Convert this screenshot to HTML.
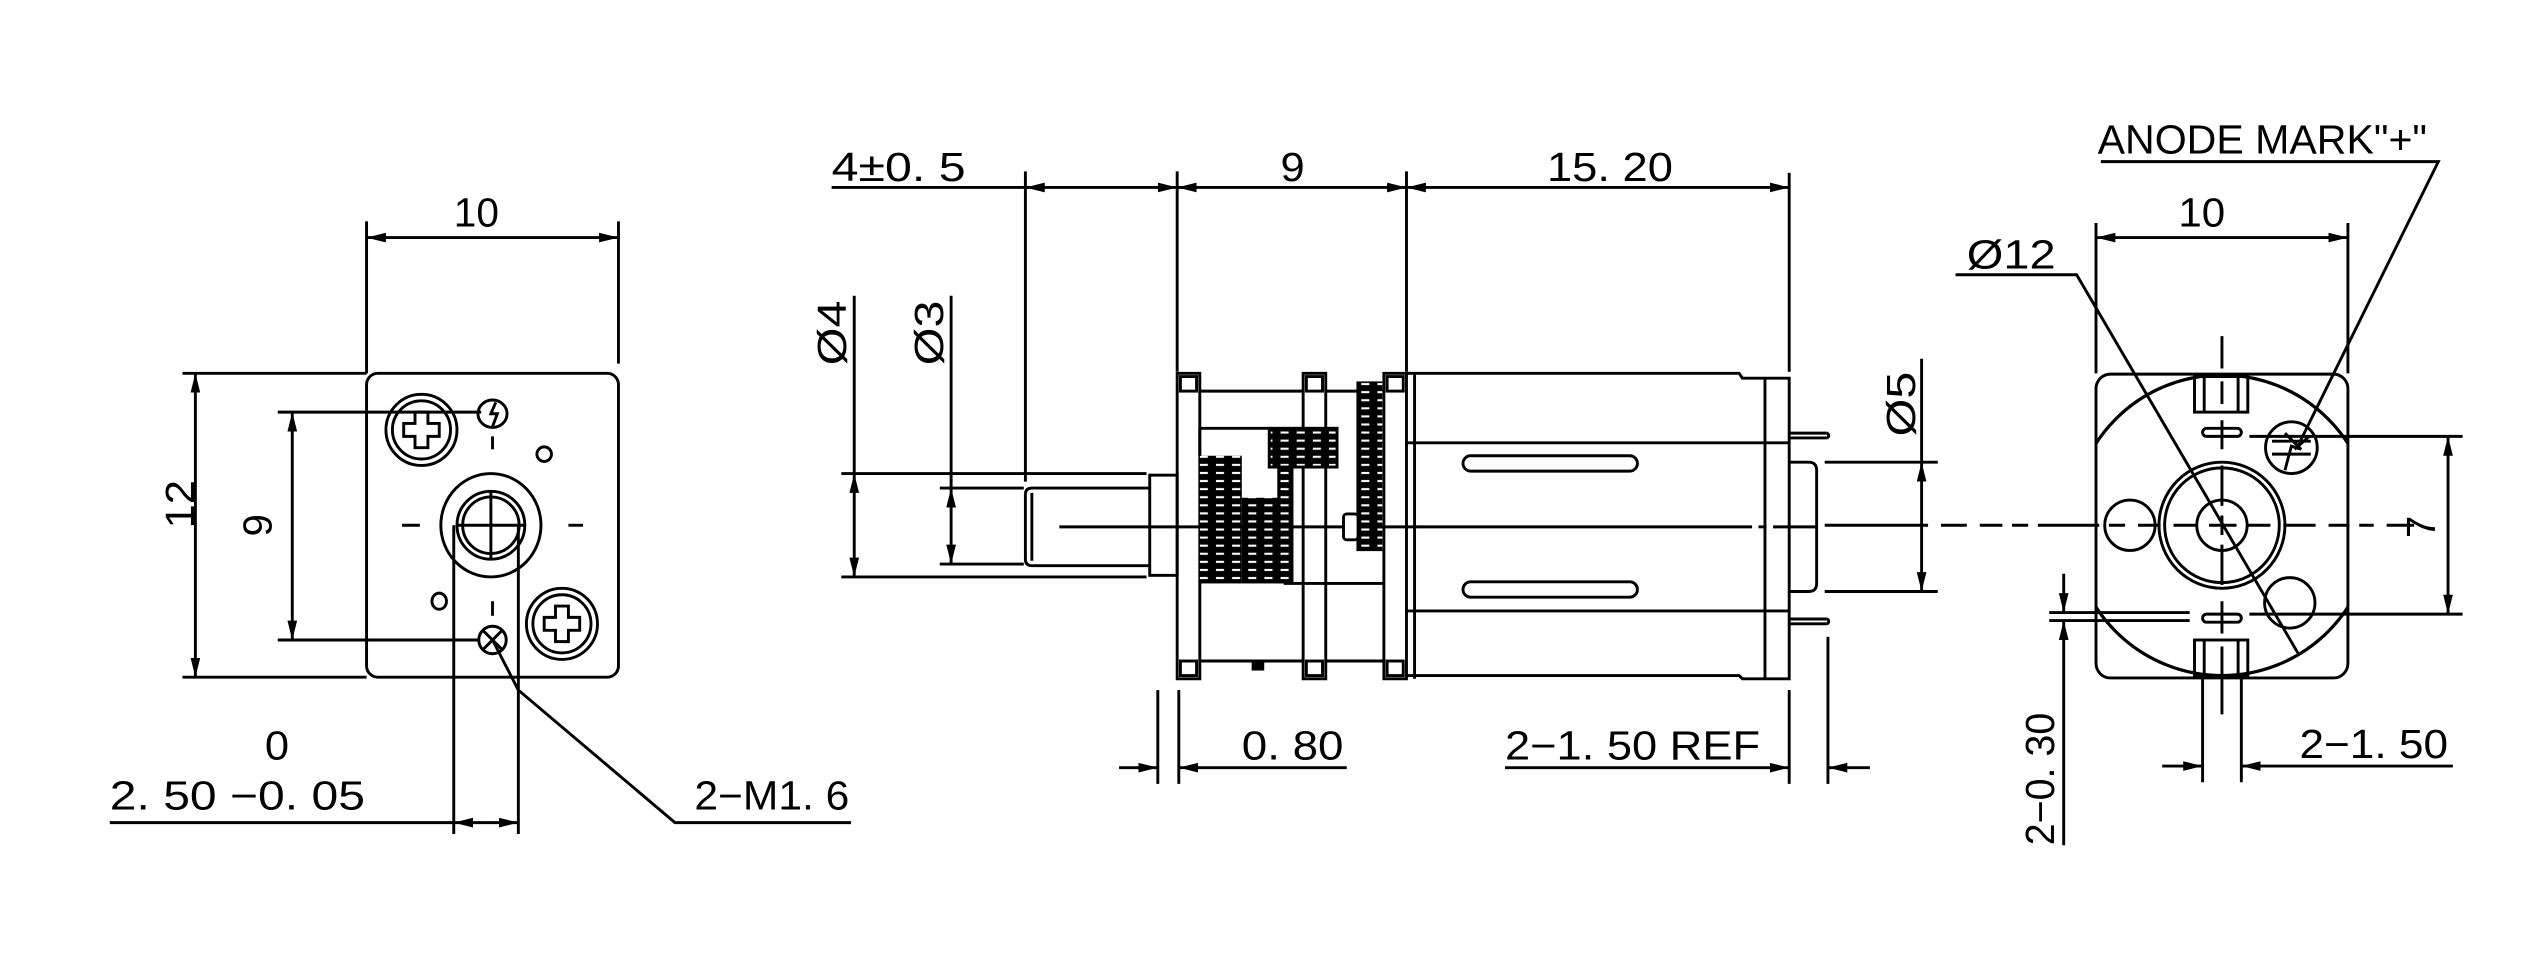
<!DOCTYPE html>
<html><head><meta charset="utf-8"><style>
html,body{margin:0;padding:0;background:#fff;}
svg{display:block;}
text{font-family:"Liberation Sans",sans-serif;fill:#000;}
</style></head><body>
<svg width="2532" height="960" viewBox="0 0 1568 594" preserveAspectRatio="none" xmlns="http://www.w3.org/2000/svg">
<defs>
<marker id="a" markerUnits="userSpaceOnUse" markerWidth="13" markerHeight="7" refX="12" refY="3" orient="auto-start-reverse"><path d="M0,0 L12,3 L0,6 z" fill="#000"/></marker>
<clipPath id="rb"><rect x="1298" y="231.5" width="156" height="188" rx="9"/></clipPath>
<pattern id="g" width="10" height="5" patternUnits="userSpaceOnUse"><rect width="10" height="5" fill="#000"/><rect x="3" y="2" width="5" height="1.3" fill="#fff"/></pattern>
</defs>
<g fill="none" stroke="#000" stroke-width="1.8">
<!-- ===== LEFT VIEW ===== -->
<rect x="227" y="231" width="156" height="188" rx="7"/>
<line x1="227" y1="137" x2="227" y2="231"/><line x1="383" y1="137" x2="383" y2="225"/>
<line x1="227" y1="147" x2="383" y2="147" marker-start="url(#a)" marker-end="url(#a)"/>
<line x1="113" y1="231" x2="227" y2="231"/><line x1="113" y1="419" x2="227" y2="419"/>
<line x1="121" y1="231" x2="121" y2="419" marker-start="url(#a)" marker-end="url(#a)"/>
<line x1="172" y1="255" x2="298" y2="255"/><line x1="172" y1="396" x2="297" y2="396"/>
<line x1="181" y1="255" x2="181" y2="396" marker-start="url(#a)" marker-end="url(#a)"/>
<circle cx="261" cy="266" r="22"/><circle cx="261" cy="266" r="18"/>
<path d="M257,255 h8 v7 h7 v8 h-7 v7 h-8 v-7 h-7 v-8 h7 z"/>
<circle cx="348" cy="386" r="22"/><circle cx="348" cy="386" r="18"/>
<path d="M344,375 h8 v7 h7 v8 h-7 v7 h-8 v-7 h-7 v-8 h7 z"/>
<ellipse cx="305" cy="256" rx="9" ry="8.5"/><path d="M307,249 l-3,7 l4,0 l-3,8"/>
<ellipse cx="337" cy="281" rx="4.5" ry="4.5"/><ellipse cx="272" cy="372" rx="4.5" ry="5"/>
<ellipse cx="304" cy="325" rx="31" ry="32"/><circle cx="304" cy="325" r="21"/><circle cx="304" cy="325" r="17.5"/>
<line x1="283" y1="325" x2="325" y2="325"/><line x1="304" y1="304" x2="304" y2="346"/>
<line x1="249" y1="325" x2="260" y2="325"/><line x1="352" y1="325" x2="361" y2="325"/>
<line x1="305" y1="270" x2="305" y2="278"/><line x1="305" y1="372" x2="305" y2="381"/>
<circle cx="305" cy="396" r="8.5"/><path d="M299,390 l12,12 M311,390 l-12,12"/>
<line x1="281" y1="325" x2="281" y2="516"/><line x1="321" y1="325" x2="321" y2="516"/>
<line x1="68" y1="509" x2="281" y2="509"/>
<line x1="301" y1="509" x2="281" y2="509" marker-end="url(#a)"/>
<line x1="301" y1="509" x2="321" y2="509" marker-end="url(#a)"/>
<path d="M305,396 L321,427 L418,509 L527,509"/>
<!-- ===== MIDDLE VIEW ===== -->
<line x1="515" y1="116" x2="635" y2="116"/>
<line x1="635" y1="116" x2="729" y2="116" marker-start="url(#a)" marker-end="url(#a)"/>
<line x1="729" y1="116" x2="871" y2="116" marker-start="url(#a)" marker-end="url(#a)"/>
<line x1="871" y1="116" x2="1108" y2="116" marker-start="url(#a)" marker-end="url(#a)"/>
<line x1="635" y1="106" x2="635" y2="298"/><line x1="729" y1="106" x2="729" y2="230"/>
<line x1="871" y1="106" x2="871" y2="230"/><line x1="1108" y1="107" x2="1108" y2="230"/>
<rect x="729" y="231" width="14" height="189"/><rect x="731" y="233" width="10" height="9"/><rect x="731" y="409" width="10" height="9"/>
<rect x="807" y="231" width="14" height="189"/><rect x="809" y="233" width="10" height="9"/><rect x="809" y="409" width="10" height="9"/>
<rect x="857" y="231" width="14" height="189"/><rect x="859" y="233" width="10" height="9"/><rect x="859" y="409" width="10" height="9"/>
<line x1="743" y1="242" x2="807" y2="242"/><line x1="821" y1="242" x2="857" y2="242"/>
<line x1="743" y1="409" x2="807" y2="409"/><line x1="821" y1="409" x2="857" y2="409"/>
<line x1="743" y1="265" x2="786" y2="265"/><line x1="743" y1="265" x2="743" y2="282"/>
<line x1="795" y1="361" x2="857" y2="361"/>
<rect x="776" y="409" width="6" height="5" fill="#000"/>
<path d="M871,231 H1077 L1079,234 H1108 V420 H1079 L1077,418 H871"/>
<line x1="876" y1="231" x2="876" y2="420"/>
<line x1="1093" y1="234" x2="1093" y2="420"/>
<line x1="871" y1="274" x2="1108" y2="274"/><line x1="871" y1="378" x2="1108" y2="378"/>
<rect x="906" y="282" width="108" height="9.5" rx="4.7"/><rect x="906" y="360" width="108" height="9.5" rx="4.7"/>
<line x1="1108" y1="268" x2="1131" y2="268"/><line x1="1108" y1="271" x2="1131" y2="271"/><path d="M1131,268 a1.5,1.5 0 0 1 0,3"/>
<line x1="1108" y1="383" x2="1131" y2="383"/><line x1="1108" y1="386" x2="1131" y2="386"/><path d="M1131,383 a1.5,1.5 0 0 1 0,3"/>
<path d="M1108,286 H1120 Q1125,286 1125,291 V361 Q1125,366 1120,366 H1108"/>
<path d="M712,302 H639 Q635,302 635,306 V346 Q635,350 639,350 H712"/>
<line x1="639" y1="305" x2="639" y2="347"/>
<rect x="712" y="294" width="17" height="62"/>
<line x1="656" y1="326" x2="1085" y2="326"/><line x1="1089" y1="326" x2="1094" y2="326"/><line x1="1098" y1="326" x2="1125" y2="326"/>
<line x1="529" y1="183" x2="529" y2="293"/>
<line x1="529" y1="293" x2="529" y2="357" marker-start="url(#a)" marker-end="url(#a)"/>
<line x1="521" y1="293" x2="710" y2="293"/><line x1="521" y1="357" x2="710" y2="357"/>
<line x1="589" y1="183" x2="589" y2="302"/>
<line x1="589" y1="302" x2="589" y2="349" marker-start="url(#a)" marker-end="url(#a)"/>
<line x1="582" y1="302" x2="634" y2="302"/><line x1="582" y1="349" x2="634" y2="349"/>
<line x1="1130" y1="286" x2="1200" y2="286"/><line x1="1130" y1="366" x2="1200" y2="366"/>
<line x1="1190" y1="286" x2="1190" y2="366" marker-start="url(#a)" marker-end="url(#a)"/>
<line x1="1190" y1="222" x2="1190" y2="286"/>
<line x1="717" y1="427" x2="717" y2="485"/><line x1="730" y1="427" x2="730" y2="485"/>
<line x1="693" y1="475" x2="717" y2="475" marker-end="url(#a)"/>
<line x1="834" y1="475" x2="730" y2="475" marker-end="url(#a)"/>
<line x1="1108" y1="427" x2="1108" y2="485"/><line x1="1132" y1="394" x2="1132" y2="485"/>
<line x1="932" y1="475" x2="1108" y2="475" marker-end="url(#a)"/>
<line x1="1158" y1="475" x2="1132" y2="475" marker-end="url(#a)"/>
<!-- ===== RIGHT VIEW ===== -->
<rect x="1298" y="231.5" width="156" height="188" rx="9"/>
<circle cx="1376" cy="325" r="93" clip-path="url(#rb)" stroke-width="2"/>
<line x1="1298" y1="138" x2="1298" y2="231"/><line x1="1454" y1="138" x2="1454" y2="231"/>
<line x1="1298" y1="147" x2="1454" y2="147" marker-start="url(#a)" marker-end="url(#a)"/>
<circle cx="1376" cy="325" r="39"/><circle cx="1376" cy="325" r="35.5"/><circle cx="1376" cy="325" r="15.6"/>
<circle cx="1319" cy="325" r="15.6"/><circle cx="1418" cy="373" r="15.6"/>
<circle cx="1419" cy="277" r="16"/>
<path d="M1407,273 h24 M1407,281 h24 M1415,268 l10,10 l-6,-2 l-4,15 M1430,270 l-9,8"/>
<rect x="1359" y="233" width="33" height="22"/><line x1="1365" y1="233" x2="1365" y2="255"/><line x1="1386" y1="233" x2="1386" y2="255"/>
<rect x="1359" y="396" width="33" height="22"/><line x1="1365" y1="396" x2="1365" y2="418"/><line x1="1386" y1="396" x2="1386" y2="418"/>
<rect x="1364" y="265" width="24" height="5" rx="2.5"/><rect x="1364" y="380" width="24" height="5" rx="2.5"/>
<path d="M1376,208 V228 M1376,236 V250 M1376,260 V278 M1376,288 V313 M1376,319 V331 M1376,337 V362 M1376,372 V392 M1376,400 V442"/>
<path d="M1130,325 H1194 M1202,325 H1218 M1226,325 H1240 M1246,325 H1256 M1262,325 H1300 M1306,325 H1316 M1324,325 H1338 M1346,325 H1360 M1368,325 H1385 M1392,325 H1406 M1414,325 H1434 M1442,325 H1455 M1461,325 H1470 M1478,325 H1495"/>
<line x1="1393" y1="270" x2="1525" y2="270"/><line x1="1393" y1="380" x2="1525" y2="380"/>
<line x1="1516" y1="270" x2="1516" y2="380" marker-start="url(#a)" marker-end="url(#a)"/>
<line x1="1269" y1="379" x2="1356" y2="379"/><line x1="1269" y1="384" x2="1356" y2="384"/>
<line x1="1278" y1="355" x2="1278" y2="379" marker-end="url(#a)"/>
<line x1="1278" y1="523" x2="1278" y2="384" marker-end="url(#a)"/>
<line x1="1364" y1="418" x2="1364" y2="484"/><line x1="1388" y1="418" x2="1388" y2="484"/>
<line x1="1339" y1="474" x2="1364" y2="474" marker-end="url(#a)"/>
<line x1="1519" y1="474" x2="1388" y2="474" marker-end="url(#a)"/>
<path d="M1301,100 H1510 L1423,276"/>
<path d="M1211,170 H1286 L1423,404"/>
</g>
<rect x="743" y="282" width="26" height="79" fill="url(#g)"/>
<rect x="769" y="308" width="26" height="53" fill="url(#g)"/>
<rect x="786" y="265" width="42" height="24" fill="url(#g)" stroke="#000" stroke-width="1.8"/>
<rect x="791" y="289" width="10" height="72" fill="url(#g)"/>
<rect x="840" y="236" width="16" height="105" fill="url(#g)"/>
<rect x="832" y="318" width="9" height="16" fill="#fff" stroke="#000" stroke-width="1.8" rx="2"/>
<text x="281" y="140" font-size="25" textLength="28" lengthAdjust="spacingAndGlyphs">10</text>
<text transform="translate(120,312) rotate(-90)" x="-15" y="0" font-size="25" textLength="30" lengthAdjust="spacingAndGlyphs">12</text>
<text transform="translate(168,325) rotate(-90)" x="-7" y="0" font-size="25">9</text>
<text x="164" y="470" font-size="25" textLength="15" lengthAdjust="spacingAndGlyphs">0</text>
<text x="68" y="501" font-size="25" textLength="158" lengthAdjust="spacingAndGlyphs">2. 50 −0. 05</text>
<text x="430" y="501" font-size="25" textLength="96" lengthAdjust="spacingAndGlyphs">2−M1. 6</text>
<text x="515" y="112" font-size="25" textLength="83" lengthAdjust="spacingAndGlyphs">4±0. 5</text>
<text x="793" y="112" font-size="25" textLength="15" lengthAdjust="spacingAndGlyphs">9</text>
<text x="958" y="112" font-size="25" textLength="78" lengthAdjust="spacingAndGlyphs">15. 20</text>
<text transform="translate(524,206) rotate(-90)" x="-20" y="0" font-size="25" textLength="40" lengthAdjust="spacingAndGlyphs">Ø4</text>
<text transform="translate(584,206) rotate(-90)" x="-20" y="0" font-size="25" textLength="40" lengthAdjust="spacingAndGlyphs">Ø3</text>
<text transform="translate(1186,250) rotate(-90)" x="-20" y="0" font-size="25" textLength="40" lengthAdjust="spacingAndGlyphs">Ø5</text>
<text x="769" y="470" font-size="25" textLength="63" lengthAdjust="spacingAndGlyphs">0. 80</text>
<text x="932" y="470" font-size="25" textLength="158" lengthAdjust="spacingAndGlyphs">2−1. 50 REF</text>
<text x="1299" y="95" font-size="25" textLength="204" lengthAdjust="spacingAndGlyphs">ANODE MARK"+"</text>
<text x="1349" y="140" font-size="25" textLength="29" lengthAdjust="spacingAndGlyphs">10</text>
<text x="1218" y="166" font-size="25" textLength="55" lengthAdjust="spacingAndGlyphs">Ø12</text>
<text transform="translate(1508,325) rotate(-90)" x="-8" y="0" font-size="25">7</text>
<text transform="translate(1272,482) rotate(-90)" x="-41" y="0" font-size="25" textLength="82" lengthAdjust="spacingAndGlyphs">2−0. 30</text>
<text x="1424" y="469" font-size="25" textLength="92" lengthAdjust="spacingAndGlyphs">2−1. 50</text>
</svg>
</body></html>
